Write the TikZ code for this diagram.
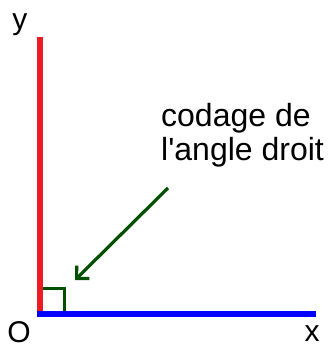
\documentclass[tikz,border=0pt]{standalone}
\usepackage{fontspec}
\setmainfont{Liberation Sans}
\usetikzlibrary{arrows.meta}
\definecolor{axred}{RGB}{237,28,36}
\definecolor{axblue}{RGB}{0,0,255}
\definecolor{dgreen}{RGB}{0,80,0}
\tikzset{
  lbl/.style={font=\fontsize{30}{34}\selectfont, inner sep=0pt},
  note/.style={font=\fontsize{32}{34}\selectfont, inner sep=0pt, anchor=base west},
  axis/.style={line width=6pt},
  mark90/.style={draw=dgreen, line width=3pt},
  pointer/.style={draw=dgreen, line width=3.2pt, -{Straight Barb[length=9pt,width=18pt,line width=3.2pt]}}
}
\begin{document}
\begin{tikzpicture}[x=1pt,y=-1pt]
\useasboundingbox (0,0) rectangle (333,345);
\coordinate (O) at (40,313.5);
\coordinate (Y) at (40,37);
\coordinate (X) at (316,313.5);
\draw[axis, axred] (40,316.5) -- (Y);
\draw[axis, axblue] (37,313.5) -- (X);
\draw[mark90] (43,288) -- (64,288) -- (64,311);
\node[lbl, anchor=base] (ylab) at (20,30) {y};
\node[lbl, anchor=base] (olab) at (19,342) {O};
\node[lbl, anchor=base] (xlab) at (312,341) {x};
\node[note] (t1) at (161,126) {codage de};
\node[note] (t2) at (161,160) {l\textquotesingle angle droit};
\coordinate (As) at (168,188);
\coordinate (At) at (75,280);
\draw[pointer] (As) -- (At);
\end{tikzpicture}
\end{document}
